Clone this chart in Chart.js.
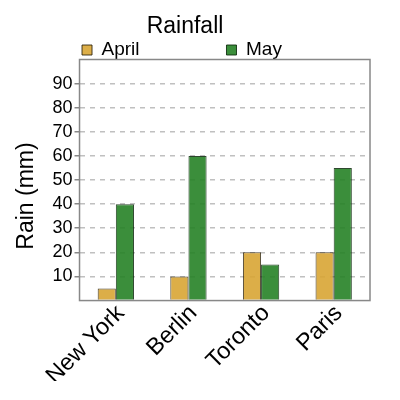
<!DOCTYPE html>
<html>
<head>
<meta charset="utf-8">
<script src="https://cdn.jsdelivr.net/npm/chart.js@4.4.0/dist/chart.umd.min.js"></script>
<style>
    html, body { margin: 0; padding: 0; background: #fff; }
    #wrap { width: 400px; height: 400px; }
</style>
</head>
<body>
<div id="wrap"><canvas id="chart"></canvas></div>
<script>
const cities = ['New York', 'Berlin', 'Toronto', 'Paris'];
const aprilRain = [5, 10, 20, 20];
const mayRain = [40, 60, 15, 55];
const yTicks = [10, 20, 30, 40, 50, 60, 70, 80, 90];

Chart.defaults.font.family = "'Liberation Sans', Arial, sans-serif";
Chart.defaults.color = '#000';

// frame around the plot area (top and right sides too)
const plotFrame = {
    id: 'plotFrame',
    afterDatasetsDraw(chart) {
        const { ctx, chartArea: a } = chart;
        ctx.save();
        ctx.strokeStyle = '#888';
        ctx.lineWidth = 1.5;
        ctx.strokeRect(a.left, a.top, a.right - a.left, a.bottom - a.top);
        ctx.restore();
    }
};

const isInnerTick = c => yTicks.includes(c.tick && c.tick.value);

new Chart(document.getElementById('chart'), {
    type: 'bar',
    data: {
        labels: cities,
        datasets: [
            {
                label: 'April',
                data: aprilRain,
                backgroundColor: 'rgba(216,165,52,0.9)',
                borderColor: 'rgba(40,30,10,0.85)',
                borderWidth: 1,
                categoryPercentage: 0.5,
                barPercentage: 1.0
            },
            {
                label: 'May',
                data: mayRain,
                backgroundColor: 'rgba(38,130,38,0.9)',
                borderColor: 'rgba(10,40,10,0.85)',
                borderWidth: 1,
                categoryPercentage: 0.5,
                barPercentage: 1.0
            }
        ]
    },
    options: {
        responsive: true,
        maintainAspectRatio: false,
        animation: false,
        layout: { padding: { left: 0, right: 30, top: 0, bottom: 19 } },
        plugins: {
            title: {
                display: true,
                text: 'Rainfall',
                font: { size: 23, weight: 'normal', lineHeight: 1.0 },
                padding: { top: 15, bottom: 0 }
            },
            legend: {
                position: 'top',
                align: 'start',
                fullSize: false,
                maxHeight: 21.5,
                labels: {
                    boxWidth: 10,
                    boxHeight: 10,
                    padding: 2.5,
                    font: { size: 19 },
                    generateLabels(chart) {
                        const items = Chart.defaults.plugins.legend.labels.generateLabels(chart);
                        // widen the first entry so the second one sits further right
                        items[0].text = items[0].text + ' '.repeat(16);
                        return items;
                    }
                }
            },
            tooltip: { enabled: false }
        },
        scales: {
            x: {
                grid: { display: false },
                border: { display: false },
                ticks: {
                    font: { size: 23.5 },
                    minRotation: 45,
                    maxRotation: 45,
                    padding: -9,
                    labelOffset: 5
                }
            },
            y: {
                min: 0,
                max: 100,
                border: { display: false, dash: [5, 5] },
                grid: {
                    color: c => isInnerTick(c) ? '#c0c0c0' : 'rgba(0,0,0,0)',
                    tickColor: c => isInnerTick(c) ? '#888' : 'rgba(0,0,0,0)',
                    lineWidth: 1.5,
                    tickBorderDash: [],
                    tickLength: 5
                },
                ticks: {
                    stepSize: 10,
                    autoSkip: false,
                    padding: 2,
                    font: { size: 18 },
                    callback: v => yTicks.includes(v) ? String(v) : ''
                },
                title: {
                    display: true,
                    text: 'Rain (mm)' + ' '.repeat(5),
                    font: { size: 23, lineHeight: 1.0 },
                    padding: { top: 15, bottom: 12.5 }
                }
            }
        }
    },
    plugins: [plotFrame]
});
</script>
</body>
</html>
